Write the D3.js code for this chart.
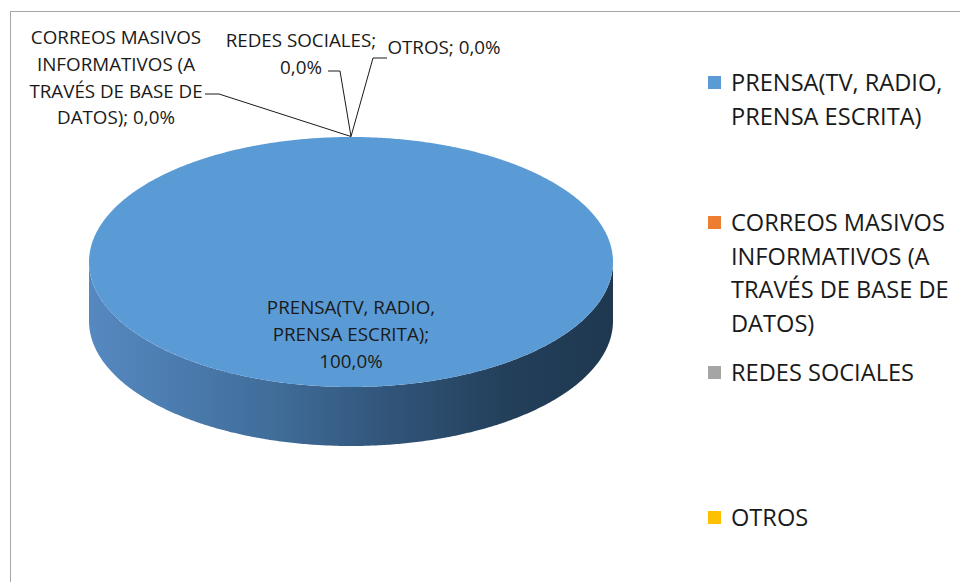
<!DOCTYPE html>
<html>
<head>
<meta charset="utf-8">
<script src="https://cdn.jsdelivr.net/npm/d3@7"></script>
<style>
  body { margin: 0; background: #fff; }
  svg { display: block; }
  text { font-family: "Open Sans", Lato, sans-serif; fill: #1a1a1a; }
</style>
</head>
<body>
<svg id="chart" width="960" height="582"></svg>
<script>
// ---- data ----
const categories = [
  "PRENSA(TV, RADIO, PRENSA ESCRITA)",
  "CORREOS MASIVOS INFORMATIVOS (A TRAVÉS DE BASE DE DATOS)",
  "REDES SOCIALES",
  "OTROS"
];
const values = [100, 0, 0, 0];
const colors = ["#5B9BD5", "#ED7D31", "#A5A5A5", "#FFC000"];

// wrapped text for the legend and the data labels ({p} = percentage)
const legendLines = [
  ["PRENSA(TV, RADIO,", "PRENSA ESCRITA)"],
  ["CORREOS MASIVOS", "INFORMATIVOS (A", "TRAVÉS DE BASE DE", "DATOS)"],
  ["REDES SOCIALES"],
  ["OTROS"]
];
const labelLines = [
  ["PRENSA(TV, RADIO,", "PRENSA ESCRITA);", "{p}"],
  ["CORREOS MASIVOS", "INFORMATIVOS (A", "TRAVÉS DE BASE DE", "DATOS); {p}"],
  ["REDES SOCIALES;", "{p}"],
  ["OTROS; {p}"]
];

// ---- layout ----
const svg = d3.select("#chart");
const W = 960, H = 582;

// chart frame
svg.append("rect")
  .attr("x", 10.5).attr("y", 11.5)
  .attr("width", W + 20).attr("height", H + 20)
  .attr("fill", "none").attr("stroke", "#a6a6a6").attr("stroke-width", 1);

const color = d3.scaleOrdinal().domain(categories).range(colors);
const locale = d3.formatLocale({ decimal: ",", thousands: ".", grouping: [3], currency: ["", "€"] });
const pct = locale.format(".1%");
const total = d3.sum(values);

// 3D pie geometry (elliptical projection)
const cx = 351, cy = 262, rx = 262, ry = 125, depth = 59;
const pt = (a, dy = 0) => [cx + rx * Math.sin(a), cy - ry * Math.cos(a) + dy];

const arcs = d3.pie().sort(null).value(d => d)(values).map((d, i) => ({ ...d, cat: categories[i], i }));

const line = d3.line();
function sample(a0, a1, dy) {
  const n = Math.max(2, Math.ceil(Math.abs(a1 - a0) / (Math.PI / 360)));
  return d3.range(n + 1).map(k => pt(a0 + (a1 - a0) * k / n, dy));
}

// side gradient
const defs = svg.append("defs");
const grad = defs.append("linearGradient")
  .attr("id", "side0").attr("gradientUnits", "userSpaceOnUse")
  .attr("x1", cx - rx).attr("x2", cx + rx).attr("y1", 0).attr("y2", 0);
[[0, "#5689c1"], [0.35, "#406d9a"], [0.6, "#2f5275"], [0.8, "#233f5a"], [1, "#1f3850"]]
  .forEach(([o, c]) => grad.append("stop").attr("offset", o).attr("stop-color", c));

const pieG = svg.append("g");

// front side walls (visible between 90° and 270°)
arcs.filter(d => d.endAngle > d.startAngle).forEach(d => {
  const a0 = Math.max(d.startAngle, Math.PI / 2);
  const a1 = Math.min(d.endAngle, 3 * Math.PI / 2);
  if (a1 <= a0) return;
  const pts = sample(a0, a1, 0).concat(sample(a1, a0, depth));
  pieG.append("path")
    .attr("d", line(pts) + "Z")
    .attr("fill", d.i === 0 ? "url(#side0)" : d3.color(color(d.cat)).darker(1));
});

// top faces
arcs.filter(d => d.endAngle > d.startAngle).forEach(d => {
  const full = d.endAngle - d.startAngle >= 2 * Math.PI - 1e-9;
  const pts = full ? sample(d.startAngle, d.endAngle, 0)
                   : [[cx, cy]].concat(sample(d.startAngle, d.endAngle, 0));
  pieG.append("path")
    .attr("d", line(pts) + "Z")
    .attr("fill", color(d.cat));
});

// ---- data labels ----
const labelG = svg.append("g").attr("font-size", 18.8).attr("text-anchor", "middle");
const labelPos = [
  { x: cx, y: 314 },                     // inside the slice
  { x: 116, y: 44, elbow: [[205, 94], [219, 94]] },
  { x: 301, y: 47, elbow: [[328, 71], [340, 71]] },
  { x: 444, y: 54, elbow: [[387, 58], [373, 58]] }
];
const lh = 26.8;
arcs.forEach(d => {
  const p = labelPos[d.i];
  const t = labelG.append("text").attr("x", p.x).attr("y", p.y);
  labelLines[d.i].forEach((s, k) => {
    t.append("tspan").attr("x", p.x).attr("y", p.y + k * lh)
      .text(s.replace("{p}", pct(d.value / total)));
  });
  if (p.elbow) {
    const anchor = pt(d.startAngle, 0);
    labelG.append("path")
      .attr("d", line(p.elbow.concat([[anchor[0], anchor[1] - 0.5]])))
      .attr("fill", "none").attr("stroke", "#1a1a1a").attr("stroke-width", 1);
  }
});

// ---- legend ----
const legendY = [83, 223, 373, 518];
const legendLH = 33.5;
const legend = svg.append("g").attr("font-size", 23.6);
categories.forEach((c, i) => {
  const g = legend.append("g");
  g.append("rect").attr("x", 708).attr("y", legendY[i] - 7).attr("width", 13).attr("height", 13)
    .attr("fill", color(c));
  const t = g.append("text").attr("x", 731).attr("y", legendY[i]);
  legendLines[i].forEach((s, k) => {
    t.append("tspan").attr("x", 731).attr("y", legendY[i] + k * legendLH)
      .attr("dy", "0.35em").text(s);
  });
});
</script>
</body>
</html>
